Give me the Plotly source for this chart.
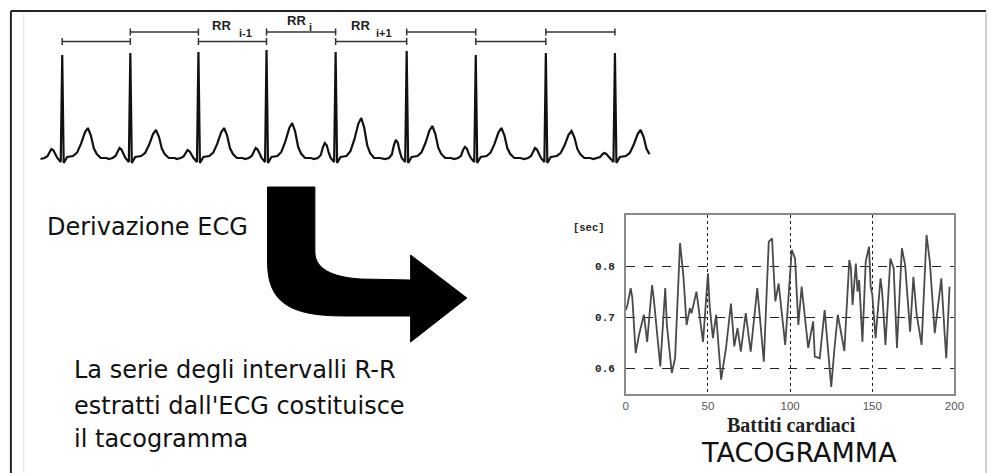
import plotly.graph_objects as go

W, H = 1000, 473

# ---------------- data ----------------
# Tachogram: beat index vs R-R interval [sec]
tach_beat = [0, 1, 3, 4, 6, 8, 11, 13, 16, 17, 21, 24, 25, 28, 30, 33, 35, 37, 39, 40,
             43, 47, 50, 51, 53, 55, 58, 61, 64, 66, 68, 70, 73, 76, 80, 84, 87, 89, 90, 91,
             93, 97, 101, 103, 105, 107, 111, 114, 115, 118, 121, 123, 125, 127, 129, 133, 136, 137, 138, 140,
             141, 142, 144, 146, 148, 149, 150, 152, 155, 156, 158, 161, 163, 165, 168, 170, 173, 175, 177, 180,
             183, 185, 188, 192, 193, 194, 195, 197]
tach_rr = [0.714, 0.724, 0.757, 0.737, 0.630, 0.665, 0.705, 0.652, 0.763, 0.737, 0.604, 0.757, 0.685, 0.591, 0.620, 0.845, 0.783, 0.685, 0.718, 0.708,
           0.750, 0.652, 0.786, 0.724, 0.659, 0.705, 0.578, 0.640, 0.727, 0.643, 0.679, 0.633, 0.708, 0.633, 0.757, 0.613, 0.848, 0.854, 0.789, 0.731,
           0.766, 0.646, 0.832, 0.815, 0.685, 0.760, 0.640, 0.692, 0.623, 0.620, 0.714, 0.640, 0.564, 0.640, 0.705, 0.634, 0.812, 0.796, 0.724, 0.805,
           0.750, 0.773, 0.652, 0.809, 0.838, 0.760, 0.744, 0.659, 0.776, 0.750, 0.646, 0.815, 0.796, 0.640, 0.835, 0.802, 0.672, 0.779, 0.705, 0.646,
           0.861, 0.809, 0.669, 0.776, 0.731, 0.669, 0.620, 0.760]
tach_xticks = [0, 50, 100, 150, 200]
tach_yticks = [0.6, 0.7, 0.8]
tach_ytext = ["0.6", "0.7", "0.8"]

# ECG strip: R-peak times and per-beat wave amplitudes
ecg_r_time = [60, 129, 198, 267, 337, 409, 479, 550, 620]
ecg_r_amp = [1.05, 1.07, 1.08, 1.10, 1.08, 1.09, 1.05, 1.07, 1.07]
ecg_t_amp = [0.32, 0.30, 0.32, 0.37, 0.42, 0.34, 0.32, 0.29, 0.30]
ecg_p_amp = [0.11, 0.12, 0.10, 0.12, 0.17, 0.20, 0.13, 0.12, 0.07]
ecg_span = [37, 655]
# one heartbeat complex read from the strip: offset from R, relative level, wave
beat_offset = [-22, -18, -15, -13, -11, -9, -7, -5, -1.5, 0, 1.5, 5, 11, 15, 19, 23, 26, 29, 32, 35, 39, 45]
beat_level = [0.01, 0.02, 0.2, 0.7, 1.0, 0.85, 0.35, 0.02, -0.02, 1.0, -0.03, 0.03, 0.04,
              0.15, 0.45, 0.85, 1.0, 0.75, 0.3, 0.1, 0.02, 0.02]
beat_wave = ["", "", "P", "P", "P", "P", "P", "", "", "R", "", "", "",
             "T", "T", "T", "T", "T", "T", "T", "", ""]

rr_labels = [("RR", "i-1"), ("RR", "i"), ("RR", "i+1")]
rr_label_interval = [2, 3, 4]

# ---------------- build ECG ----------------
ecg_t, ecg_v = [], []
for k, r in enumerate(ecg_r_time):
    for off, lev, wave in zip(beat_offset, beat_level, beat_wave):
        t = r + off
        if t < ecg_span[0] or t > ecg_span[1]:
            continue
        if wave == "P":
            v = 0.02 + lev * (ecg_p_amp[k] - 0.02)
        elif wave == "T":
            v = 0.03 + lev * (ecg_t_amp[k] - 0.03)
        elif wave == "R":
            v = ecg_r_amp[k]
        else:
            v = lev
        ecg_t.append(t)
        ecg_v.append(v)

fig = go.Figure()
fig.add_trace(go.Scatter(x=tach_beat, y=tach_rr, mode="lines",
                         line=dict(color="#4a4a4a", width=1.8),
                         xaxis="x", yaxis="y", hoverinfo="skip", showlegend=False))
fig.add_trace(go.Scatter(x=ecg_t, y=ecg_v, mode="lines",
                         line=dict(color="#111111", width=2.2),
                         xaxis="x2", yaxis="y2", hoverinfo="skip", showlegend=False))
fig.add_trace(go.Scatter(x=[0], y=[0], mode="markers", marker=dict(opacity=0),
                         xaxis="x3", yaxis="y3", hoverinfo="skip", showlegend=False))


def py(y):
    return 1 - y / H


# ---------------- layout ----------------
fig.update_layout(
    width=W, height=H, margin=dict(l=0, r=0, t=0, b=0),
    paper_bgcolor="white", plot_bgcolor="rgba(0,0,0,0)", showlegend=False,
    xaxis=dict(domain=[0.631, 0.964], range=[0, 200], tickvals=tach_xticks,
               showgrid=True, gridcolor="#222", griddash="dot", gridwidth=1.3,
               showline=True, mirror=True, linecolor="#8a8a8a", linewidth=1.5,
               zeroline=False, ticks="", ticklabelstandoff=0,
               tickfont=dict(family="Liberation Sans", size=11.5, color="#555")),
    yaxis=dict(domain=[py(394), py(215)], range=[0.55, 0.9], tickvals=tach_yticks,
               ticktext=tach_ytext,
               showgrid=True, gridcolor="#222", griddash="dash", gridwidth=1,
               showline=True, mirror=True, linecolor="#8a8a8a", linewidth=1.5,
               zeroline=False, ticks="", ticklabelstandoff=7,
               tickfont=dict(family="Liberation Mono", size=11, color="#222", weight="bold")),
    xaxis2=dict(domain=[0, 1], range=[0, W], visible=False, anchor="y2"),
    yaxis2=dict(domain=[0, 1], range=[-3.13, 1.6], visible=False, anchor="x2"),
    xaxis3=dict(domain=[0, 1], range=[0, W], visible=False, anchor="y3"),
    yaxis3=dict(domain=[0, 1], range=[H, 0], visible=False, anchor="x3"),
)

shapes = []
# frame
shapes.append(dict(type="line", xref="x3", yref="y3", x0=8, y0=11, x1=996, y1=11,
                   line=dict(color="#222", width=2)))
shapes.append(dict(type="line", xref="x3", yref="y3", x0=8, y0=11, x1=8, y1=H,
                   line=dict(color="#222", width=2)))
shapes.append(dict(type="line", xref="x3", yref="y3", x0=21, y0=13, x1=21, y1=H,
                   line=dict(color="#e2e2e2", width=1)))
shapes.append(dict(type="line", xref="x3", yref="y3", x0=996, y0=13, x1=996, y1=H,
                   line=dict(color="#d0d0d0", width=2)))
# curved arrow
arrow_path = ("M 268 187 L 268 262 C 268 302, 290 316, 345 316 L 413 316 L 413 342 "
              "L 470 298 L 413 255 L 413 280 L 362 279 C 332 277, 316 268, 316 252 "
              "L 316 187 Z")
shapes.append(dict(type="path", xref="x3", yref="y3", path=arrow_path,
                   fillcolor="black", line=dict(color="black", width=1)))
# RR brackets between successive R peaks
low_y, high_y, tick = 41.5, 32, 3.5
for i in range(len(ecg_r_time) - 1):
    yb = low_y if i % 2 == 0 else high_y
    xa, xb = ecg_r_time[i], ecg_r_time[i + 1]
    for (x0, y0, x1, y1) in [(xa, yb, xb, yb), (xa, yb - tick, xa, yb + tick), (xb, yb - tick, xb, yb + tick)]:
        shapes.append(dict(type="line", xref="x2", yref="paper", x0=x0, x1=x1,
                           y0=py(y0), y1=py(y1), line=dict(color="#333", width=1.5)))
fig.update_layout(shapes=shapes)


def label(text, x, y, size, family, color="#111", weight="normal", xanchor="left",
          yanchor="middle", xref="paper"):
    fig.add_annotation(text=text, x=x if xref != "paper" else x / W, y=py(y),
                       xref=xref, yref="paper", showarrow=False,
                       xanchor=xanchor, yanchor=yanchor,
                       font=dict(size=size, family=family, color=color, weight=weight))


# RR labels over the brackets
for (main, sub), k in zip(rr_labels, rr_label_interval):
    mid = (ecg_r_time[k] + ecg_r_time[k + 1]) / 2
    high = k % 2 == 1
    y_main = 20 if high else 25
    label(main, mid - 5 if high else mid - 11, y_main, 13, "Liberation Sans", "#222", "bold",
          xanchor="center", xref="x2")
    label(sub, mid + 10 if high else mid + 13, y_main + 7.5, 11, "Liberation Sans", "#222", "bold",
          xanchor="center", xref="x2")

label("Derivazione ECG", 43, 227, 24, "DejaVu Sans")
label("La serie degli intervalli R-R", 70, 370, 24, "DejaVu Sans")
label("estratti dall'ECG costituisce", 70, 406, 24, "DejaVu Sans")
label("il tacogramma", 70, 439, 24, "DejaVu Sans")
label("TACOGRAMMA", 806, 452, 27, "DejaVu Sans", xanchor="center")
label("Battiti cardiaci", 799, 425, 20, "Liberation Serif", "#222", "bold", xanchor="center")
label("[sec]", 575, 228, 10.5, "Liberation Mono", "#222", "bold")

fig.write_html("out.html")
